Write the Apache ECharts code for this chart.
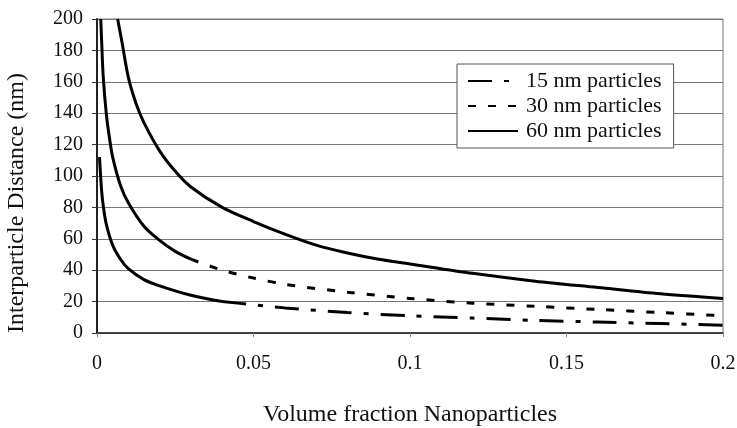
<!DOCTYPE html>
<html><head><meta charset="utf-8">
<script src="https://cdn.jsdelivr.net/npm/echarts@6/dist/echarts.min.js"></script>
<style>html,body{margin:0;padding:0;background:#fff}#c{width:737px;height:428px}</style>
</head><body><div id="c"></div>
<script>
// Data
const x15 = [0.0008,0.001,0.0015,0.002,0.003,0.005,0.0075,0.01,0.015,0.02,0.03,0.04,0.05,0.06,0.08,0.1,0.12,0.14,0.16,0.18,0.2];
const y15 = [112,105,90,81,69,56,47,41,34,30,24,20,18,16,13,11,9.5,8,7,6,5];
const x30 = [0.0012,0.0015,0.002,0.003,0.004,0.005,0.0075,0.01,0.015,0.02,0.025,0.03,0.04,0.05,0.06,0.08,0.1,0.12,0.14,0.16,0.18,0.2];
const y30 = [200,185,163,139,124,112,94,83,68,59,52,47,40,35,31,26,22,19,17,15,13,11];
const x60 = [0.0066,0.008,0.01,0.0125,0.015,0.02,0.025,0.03,0.04,0.05,0.06,0.07,0.08,0.09,0.1,0.12,0.14,0.16,0.18,0.2];
const y60 = [200,185,163,146,134,116,103,93,80,71,63,56,51,47,44,38,33,29,25,22];
const names = ['15 nm particles','30 nm particles','60 nm particles'];
const xTicks = [0,0.05,0.1,0.15,0.2];
const yTicks = [0,20,40,60,80,100,120,140,160,180,200];

const pairs = (xs, ys) => xs.map((x,i)=>[x, ys[i]]);
const solidUntil = (xs, ys, lim) => pairs(xs,ys).filter(p=>p[0]<=lim);
const dashedFrom = (xs, ys, lim) => pairs(xs,ys).filter(p=>p[0]>=lim);

const font = 'Liberation Serif';
const chart = echarts.init(document.getElementById('c'));
const lw = 3;
chart.setOption({
  animation:false,
  backgroundColor:'#fff',
  grid:{left:97,right:14,top:19,bottom:95,show:true,borderColor:'#777',borderWidth:1,
        containLabel:false,outerBoundsMode:'none'},
  legend:{
    data:names, orient:'vertical', left:457, top:64,
    backgroundColor:'#fff', borderColor:'#555', borderWidth:1,
    padding:[6,12,6,10], itemGap:3, itemWidth:50, itemHeight:14,
    itemStyle:{opacity:0},
    textStyle:{fontFamily:font,fontSize:22,lineHeight:22,color:'#111',padding:[0,0,0,3]}
  },
  xAxis:{
    type:'value', min:xTicks[0], max:xTicks[xTicks.length-1], interval:0.05,
    name:'Volume fraction Nanoparticles', nameLocation:'middle', nameGap:70,
    nameTextStyle:{fontFamily:font,fontSize:24,color:'#111'},
    axisLine:{show:true,onZero:false,lineStyle:{color:'#222',width:1.5}},
    axisTick:{show:true,length:4,lineStyle:{color:'#888'}},
    axisLabel:{fontFamily:font,fontSize:20,color:'#111',margin:21},
    splitLine:{show:false}
  },
  yAxis:{
    type:'value', min:yTicks[0], max:yTicks[yTicks.length-1], interval:20,
    name:'Interparticle Distance (nm)', nameLocation:'middle', nameGap:68,
    nameTextStyle:{fontFamily:font,fontSize:24,color:'#111',padding:[0,54,0,0]},
    axisLine:{show:true,lineStyle:{color:'#222',width:2}},
    axisTick:{show:true,length:5,lineStyle:{color:'#333'}},
    axisLabel:{fontFamily:font,fontSize:20,color:'#111',margin:14},
    splitLine:{show:true,lineStyle:{color:'#777',width:1}}
  },
  series:[
    {name:names[0],type:'line',data:dashedFrom(x15,y15,0.04),symbol:'none',smooth:0.3,
     lineStyle:{color:'#000',width:lw,type:[24,12,5,12]}, itemStyle:{color:'#000'}, z:3},
    {name:names[1],type:'line',data:dashedFrom(x30,y30,0.03),symbol:'none',smooth:0.3,
     lineStyle:{color:'#000',width:lw,type:[8,12]}, itemStyle:{color:'#000'}, z:3},
    {name:names[2],type:'line',data:pairs(x60,y60),symbol:'none',smooth:0.3,
     lineStyle:{color:'#000',width:lw}, itemStyle:{color:'#000'}, z:3},
    {name:'s15',type:'line',data:solidUntil(x15,y15,0.04),symbol:'none',smooth:0.3,
     lineStyle:{color:'#000',width:lw}, z:3},
    {name:'s30',type:'line',data:solidUntil(x30,y30,0.03),symbol:'none',smooth:0.3,
     lineStyle:{color:'#000',width:lw}, z:3}
  ]
});
</script></body></html>
